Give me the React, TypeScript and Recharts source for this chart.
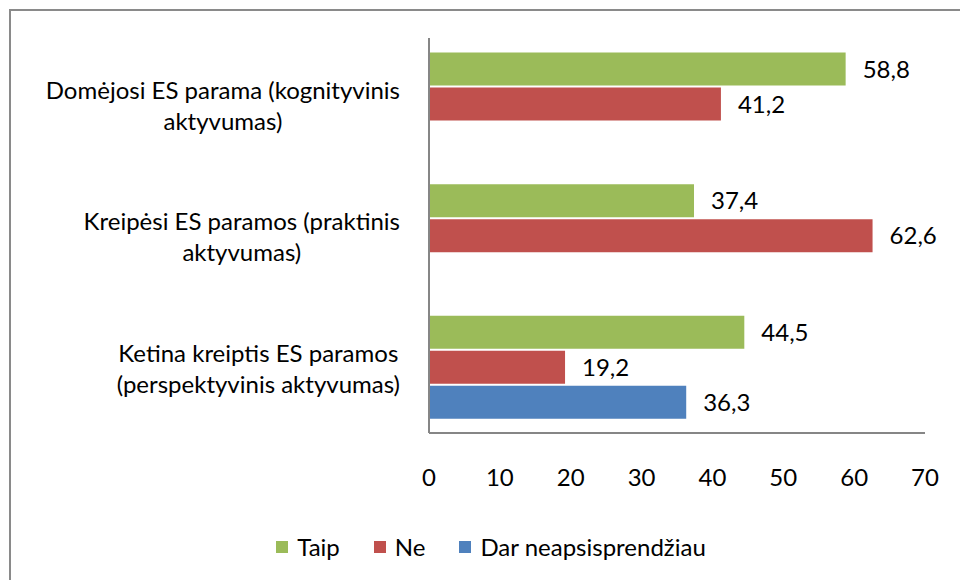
import React from "react";
import { BarChart, Bar, XAxis, YAxis, LabelList, Legend } from "recharts";

const categories = [
  "Domėjosi ES parama (kognityvinis\naktyvumas)",
  "Kreipėsi ES paramos (praktinis\naktyvumas)",
  "Ketina kreiptis ES paramos\n(perspektyvinis aktyvumas)",
];
const taip = [58.8, 37.4, 44.5];
const ne = [41.2, 62.6, 19.2];
const darNeapsisprendziau = [null, null, 36.3];
const xTicks = [0, 10, 20, 30, 40, 50, 60, 70];

const seriesNames = ["Taip", "Ne", "Dar neapsisprendžiau"];
const seriesKeys = ["taip", "ne", "dar"];
const seriesColors = ["#9BBB59", "#C0504D", "#4F81BD"];

const data = categories.map((name, i) => ({
  name,
  taip: taip[i],
  ne: ne[i],
  dar: darNeapsisprendziau[i],
}));

const FONT = "Lato, 'Open Sans', sans-serif";
const FS = 24;

let ctx: CanvasRenderingContext2D | null = null;
function measure(text: string): number {
  if (!ctx) {
    const c = document.createElement("canvas");
    ctx = c.getContext("2d");
  }
  if (!ctx) return text.length * FS * 0.5;
  ctx.font = `${FS}px Lato`;
  return ctx.measureText(text).width;
}

const CategoryTick = (props: any) => {
  const { y, payload } = props;
  const lines = String(payload.value).split("\n");
  const maxW = Math.max(...lines.map(measure));
  const cx = 400 - maxW / 2;
  const lh = 31;
  return (
    <g>
      {lines.map((ln: string, i: number) => (
        <text
          key={i}
          x={cx}
          y={y + 2 + (i - (lines.length - 1) / 2) * lh}
          dy="0.35em"
          textAnchor="middle"
          fontFamily={FONT}
          fontSize={FS}
          fill="#000"
        >
          {ln}
        </text>
      ))}
    </g>
  );
};

const fmt = (v: any) =>
  v === null || v === undefined ? "" : String(v).replace(".", ",");

const LegendContent = () => (
  <div
    style={{
      display: "flex",
      justifyContent: "center",
      alignItems: "center",
      fontFamily: FONT,
      fontSize: FS,
      color: "#000",
      paddingLeft: 22,
    }}
  >
    {seriesNames.map((n, i) => (
      <div
        key={n}
        style={{ display: "flex", alignItems: "center", marginRight: i < 2 ? 34 : 0 }}
      >
        <span
          style={{
            display: "inline-block",
            width: 12,
            height: 12,
            background: seriesColors[i],
            marginRight: 9,
          }}
        />
        <span>{n}</span>
      </div>
    ))}
  </div>
);

export default function App() {
  return (
    <div style={{ position: "fixed", left: 0, top: 0, width: 960, height: 580, background: "#fff" }}>
      <div
        style={{
          position: "fixed",
          left: 9,
          top: 9,
          right: 0,
          bottom: 0,
          borderTop: "2px solid #8a8a8a",
          borderLeft: "2px solid #8a8a8a",
        }}
      />
      <BarChart
        width={960}
        height={580}
        data={data}
        layout="vertical"
        margin={{ top: 38, right: 35, left: 0, bottom: 87 }}
        barCategoryGap="11%"
        barGap={2}
      >
        <XAxis
          type="number"
          domain={[0, 70]}
          ticks={xTicks}
          axisLine={{ stroke: "#868686", strokeWidth: 2 }}
          tickLine={false}
          tickMargin={30}
          height={60}
          tick={{ fontFamily: FONT, fontSize: FS, fill: "#000" }}
          interval={0}
        />
        <YAxis
          type="category"
          dataKey="name"
          width={429}
          axisLine={{ stroke: "#868686", strokeWidth: 2 }}
          tickLine={false}
          tick={<CategoryTick />}
          interval={0}
        />
        <Legend
          layout="horizontal"
          verticalAlign="middle"
          align="center"
          wrapperStyle={{ top: 532, left: 0, width: 960 }}
          content={<LegendContent />}
        />
        {seriesKeys.map((k, i) => (
          <Bar
            key={k}
            dataKey={k}
            name={seriesNames[i]}
            fill={seriesColors[i]}
            isAnimationActive={false}
          >
            <LabelList
              dataKey={k}
              position="right"
              offset={17}
              formatter={fmt}
              fontFamily={FONT}
              fontSize={FS}
              fill="#000"
            />
          </Bar>
        ))}
      </BarChart>
    </div>
  );
}
